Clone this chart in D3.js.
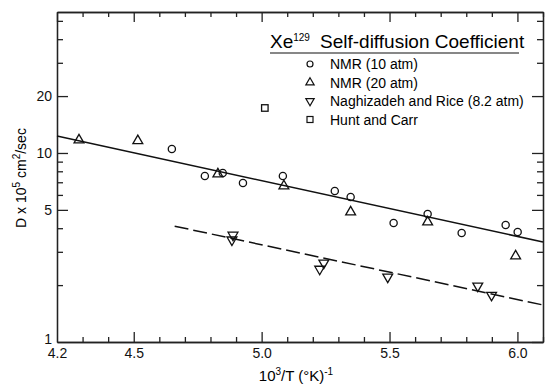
<!DOCTYPE html>
<html lang="en">
<head>
<meta charset="utf-8">
<title>Xe129 self-diffusion</title>
<script src="https://d3js.org/d3.v7.min.js"></script>
<style>
  body { margin: 0; background: #fff; }
  svg { display: block; font-family: "Liberation Sans", Arial, sans-serif; }
  .axis path, .axis line { stroke: #222; stroke-width: 1.3px; }
  .axis text { font-size: 14px; fill: #111; }
</style>
</head>
<body>
<div id="chart"></div>
<script>
// NMR (10 atm) - circles
const nmr10 = [
  [4.649, 10.5], [4.778, 7.56], [4.848, 7.84], [4.927, 6.94], [5.083, 7.56],
  [5.286, 6.29], [5.348, 5.85], [5.516, 4.26], [5.649, 4.76], [5.782, 3.77],
  [5.954, 4.16], [6.001, 3.82]
]
// NMR (20 atm) - triangles up
const nmr20 = [
  [4.286, 11.7], [4.516, 11.6], [4.829, 7.74], [5.087, 6.69], [5.348, 4.87],
  [5.649, 4.31], [5.993, 2.85]
]
// Naghizadeh and Rice (8.2 atm) - triangles down
const naghizadeh = [
  [4.888, 3.68], [4.884, 3.47], [5.227, 2.43], [5.243, 2.62], [5.493, 2.21],
  [5.845, 1.98], [5.899, 1.77]
]
// Hunt and Carr - square
const huntCarr = [[5.0125, 17.3]]

// fitted lines
const solidFit = [[4.2, 12.3], [6.1, 3.38]]
const dashedFit = [[4.66, 4.1], [6.1, 1.57]]

const xMajor = [4.2, 4.5, 5.0, 5.5, 6.0]
const xMinor = [4.3, 4.4, 4.6, 4.7, 4.8, 4.9, 5.1, 5.2, 5.3, 5.4, 5.6, 5.7, 5.8, 5.9, 6.1]
const yMajor = [1, 5, 10, 20]
const yMinor = [2, 3, 4, 6, 7, 8, 9, 30, 40, 50]

const legendItems = ["NMR (10 atm)", "NMR (20 atm)", "Naghizadeh and Rice (8.2 atm)", "Hunt and Carr"]

const width = 546
const height = 385
const margins = { top: 12, bottom: 43, left: 57, right: 3 }

const svg = d3.select("#chart").append("svg")
    .attr("width", width)
    .attr("height", height)

const x = d3.scaleLinear().domain([4.2, 6.1]).range([margins.left, width - margins.right])
const y = d3.scaleLog().domain([1, 55.7]).range([height - margins.bottom, margins.top])

const fmtX = d3.format(".1f")

// bottom axis
svg.append("g").attr("class", "axis")
    .attr("transform", "translate(0," + y.range()[0] + ")")
    .call(d3.axisBottom(x).tickValues(xMinor).tickSize(-5).tickFormat("").tickSizeOuter(0))
svg.append("g").attr("class", "axis")
    .attr("transform", "translate(0," + y.range()[0] + ")")
    .call(d3.axisBottom(x).tickValues(xMajor).tickSize(-10).tickPadding(6).tickFormat(fmtX).tickSizeOuter(0))
    .call(g => g.selectAll(".tick").filter(d => d === 4.2).select("line").remove())

// top axis
svg.append("g").attr("class", "axis")
    .attr("transform", "translate(0," + y.range()[1] + ")")
    .call(d3.axisTop(x).tickValues(xMinor).tickSize(-5).tickFormat("").tickSizeOuter(0))
svg.append("g").attr("class", "axis")
    .attr("transform", "translate(0," + y.range()[1] + ")")
    .call(d3.axisTop(x).tickValues(xMajor).tickSize(-10).tickFormat("").tickSizeOuter(0))

// left axis
svg.append("g").attr("class", "axis")
    .attr("transform", "translate(" + x.range()[0] + ",0)")
    .call(d3.axisLeft(y).tickValues(yMinor).tickSize(-6).tickFormat("").tickSizeOuter(0))
svg.append("g").attr("class", "axis")
    .attr("transform", "translate(" + x.range()[0] + ",0)")
    .call(d3.axisLeft(y).tickValues(yMajor).tickSize(-11).tickPadding(5).tickFormat(d3.format("d")).tickSizeOuter(0))
    .call(g => g.selectAll(".tick").filter(d => d === 1).select("line").remove())
    .call(g => g.selectAll(".tick").filter(d => d === 1).select("text").attr("dy", "0.1em"))

// right axis
svg.append("g").attr("class", "axis")
    .attr("transform", "translate(" + x.range()[1] + ",0)")
    .call(d3.axisRight(y).tickValues(yMinor).tickSize(-6).tickFormat("").tickSizeOuter(0))
svg.append("g").attr("class", "axis")
    .attr("transform", "translate(" + x.range()[1] + ",0)")
    .call(d3.axisRight(y).tickValues(yMajor).tickSize(-11).tickFormat("").tickSizeOuter(0))

// axis labels
svg.append("text")
    .attr("transform", "translate(26,178) rotate(-90)")
    .attr("text-anchor", "middle")
    .style("font-size", "14px")
    .html('D x 10<tspan dy="-6" font-size="10">5</tspan><tspan dy="6"> cm</tspan><tspan dy="-6" font-size="10">2</tspan><tspan dy="6">/sec</tspan>')

svg.append("text")
    .attr("x", 296)
    .attr("y", 381)
    .attr("text-anchor", "middle")
    .style("font-size", "15px")
    .html('10<tspan dy="-6" font-size="10">3</tspan><tspan dy="6">/T  (°K)</tspan><tspan dy="-6" font-size="10">-1</tspan>')

// fit lines
const line = d3.line().x(d => x(d[0])).y(d => y(d[1]))
svg.append("path").datum(solidFit)
    .attr("d", line).attr("fill", "none").attr("stroke", "#111").attr("stroke-width", 1.5)
svg.append("path").datum(dashedFit)
    .attr("d", line).attr("fill", "none").attr("stroke", "#111").attr("stroke-width", 1.5)
    .attr("stroke-dasharray", "14,5")

// markers
const triUp = d3.symbol().type(d3.symbolTriangle).size(42)
function drawCircles(sel, data, r) {
  sel.selectAll(null).data(data).enter().append("circle")
      .attr("cx", d => x(d[0])).attr("cy", d => y(d[1])).attr("r", r)
      .attr("fill", "none").attr("stroke", "#111").attr("stroke-width", 1.3)
}
function drawTriangles(sel, data, down) {
  sel.selectAll(null).data(data).enter().append("path")
      .attr("d", triUp)
      .attr("transform", d => "translate(" + x(d[0]) + "," + y(d[1]) + ")" + (down ? " rotate(180)" : ""))
      .attr("fill", "none").attr("stroke", "#111").attr("stroke-width", 1.3)
}
function drawSquares(sel, data, s) {
  sel.selectAll(null).data(data).enter().append("rect")
      .attr("x", d => x(d[0]) - s / 2).attr("y", d => y(d[1]) - s / 2)
      .attr("width", s).attr("height", s)
      .attr("fill", "none").attr("stroke", "#111").attr("stroke-width", 1.3)
}
const pts = svg.append("g")
drawCircles(pts, nmr10, 3.6)
drawTriangles(pts, nmr20, false)
drawTriangles(pts, naghizadeh, true)
drawSquares(pts, huntCarr, 6.5)

// legend
const leg = svg.append("g")
const title = leg.append("text").attr("y", 48).style("font-size", "19px")
title.append("tspan").attr("x", 270).text("Xe")
title.append("tspan").attr("dy", -7).style("font-size", "10px").text("129")
title.append("tspan").attr("x", 320).attr("dy", 7).text("Self-diffusion Coefficient")
leg.append("line")
    .attr("x1", 270).attr("x2", 519).attr("y1", 53).attr("y2", 53)
    .attr("stroke", "#111").attr("stroke-width", 1.2)

const rowY = i => 64 + i * 18.5
leg.selectAll("text.item").data(legendItems).enter().append("text")
    .attr("class", "item")
    .attr("x", 330).attr("y", (d, i) => rowY(i) + 5)
    .style("font-size", "14px")
    .text(d => d)
leg.append("circle").attr("cx", 310).attr("cy", rowY(0)).attr("r", 3)
    .attr("fill", "none").attr("stroke", "#111").attr("stroke-width", 1.2)
leg.append("path").attr("d", d3.symbol().type(d3.symbolTriangle).size(30))
    .attr("transform", "translate(310," + rowY(1) + ")")
    .attr("fill", "none").attr("stroke", "#111").attr("stroke-width", 1.2)
leg.append("path").attr("d", d3.symbol().type(d3.symbolTriangle).size(30))
    .attr("transform", "translate(310," + rowY(2) + ") rotate(180)")
    .attr("fill", "none").attr("stroke", "#111").attr("stroke-width", 1.2)
leg.append("rect").attr("x", 307).attr("y", rowY(3) - 3).attr("width", 6).attr("height", 6)
    .attr("fill", "none").attr("stroke", "#111").attr("stroke-width", 1.2)
</script>
</body>
</html>
